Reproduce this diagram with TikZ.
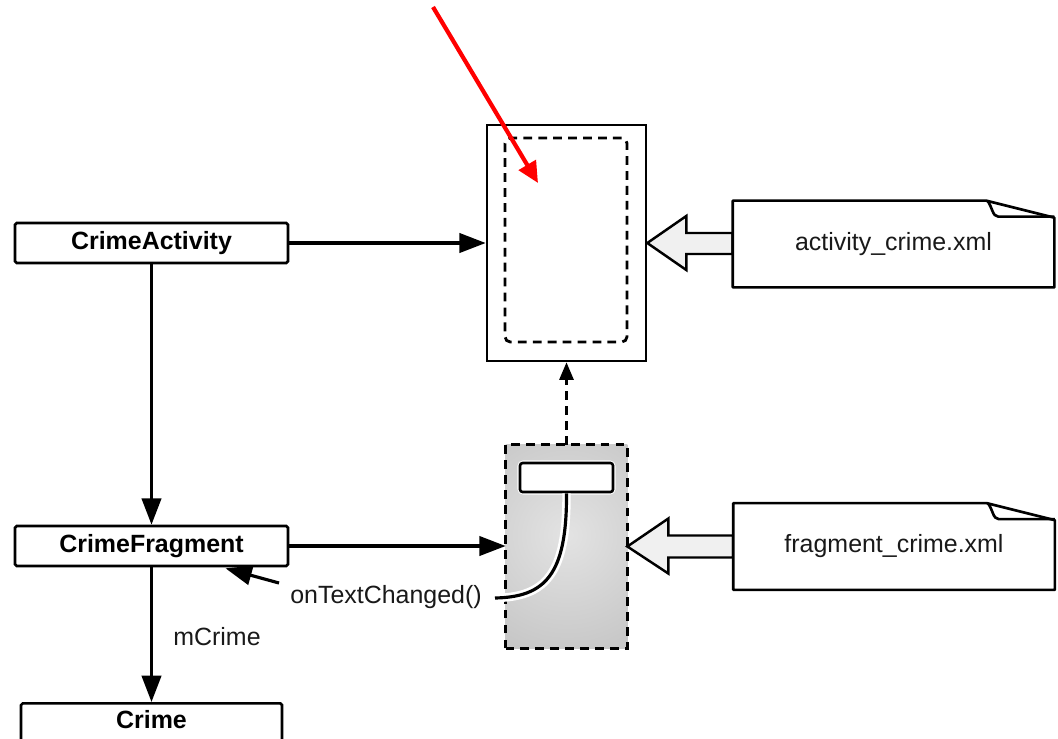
\documentclass[tikz,border=0pt]{standalone}
\usepackage{fontspec}
\setmainfont{Liberation Sans}
\usetikzlibrary{arrows.meta,calc}
\begin{document}
\begin{tikzpicture}[x=0.02cm,y=-0.02cm,
  txt/.style={font=\fontsize{14.2}{17}\selectfont, text=black!90},
  classbox/.style={draw, line width=1.5pt, rounded corners=1pt, fill=white,
    minimum width=5.46cm, minimum height=0.8cm, inner sep=0pt,
    font=\bfseries\fontsize{14.2}{17}\selectfont},
  flow/.style={line width=1.8pt, -{Triangle[length=15pt,width=11pt]}},
  docnode/.style={txt, minimum width=6.42cm, minimum height=1.72cm, inner sep=0pt},
  docline/.style={line width=1.5pt, line join=round},
  hollow/.style={draw, line width=1.4pt, fill=gray!12, line join=miter},
  dashline/.style={dash pattern=on 5pt off 3.5pt}
]
\useasboundingbox (0,0) rectangle (1058,738);
\clip (0,0) rectangle (1058,738);
\fill[white] (0,0) rectangle (1058,738);

% classes on the left
\node[classbox] (ca) at (151.5,243) {CrimeActivity};
\node[classbox] (cf) at (151.5,546) {CrimeFragment};
\node[classbox, minimum width=5.22cm, anchor=north, text height=0.5cm, text depth=0.5cm] (cr) at (151.5,702) {Crime};

% activity view with its fragment slot
\node[draw, line width=1.5pt, fill=white, minimum width=3.18cm, minimum height=4.72cm, inner sep=0pt] (ab) at (566.5,243) {};
\node[draw, dashline, line width=1.6pt, rounded corners=3pt, minimum width=2.44cm, minimum height=4.08cm, inner sep=0pt] (slot) at (566,240) {};

% fragment view
\node[minimum width=2.42cm, minimum height=4.06cm, inner sep=0pt] (fb) at (566.5,546.5) {};
\begin{scope}
  \clip (fb.south west) rectangle (fb.north east);
  \shade[inner color=gray!22, outer color=gray!58] (567,535) circle (200);
\end{scope}
\draw[dashline, line width=1.6pt] (fb.south west) rectangle (fb.north east);
\draw[white, line width=3pt, rounded corners=2pt] ($(566.5,477.5)+(-46.5,-14.5)$) rectangle ($(566.5,477.5)+(46.5,14.5)$);
\node[draw, line width=1.5pt, fill=white, rounded corners=1.5pt, minimum width=1.86cm, minimum height=0.58cm, inner sep=0pt] (field) at (566.5,477.5) {};
\coordinate (cbend) at (495,598);
\draw[white, line width=4.8pt] (field.south) .. controls (567,575) and (545,597) .. (cbend);
\draw[line width=1.8pt] (field.south) .. controls (567,575) and (545,597) .. (cbend);

% layout files
\node[docnode] (ad) at (893.5,244) {};
\node[docnode] (fd) at (894,546.5) {};

\draw[hollow] (ab.east) -- ++(39,-27) -- ++(0,17) -- ($(ad.west)+(0,-11)$)
  -- ($(ad.west)+(0,10)$) -- ($(ab.east)+(39,11)$) -- ($(ab.east)+(39,27)$) -- cycle;
\draw[hollow] (fb.east) -- ++(41,-28) -- ++(0,17) -- ($(fd.west)+(0,-11)$)
  -- ($(fd.west)+(0,11)$) -- ($(fb.east)+(41,11)$) -- ($(fb.east)+(41,27)$) -- cycle;

\foreach \d in {ad,fd}{
  \draw[docline, fill=white] (\d.north west) -- ($(\d.north east)+(-68,0)$)
    -- ($(\d.north east)+(0,17)$) -- (\d.south east) -- (\d.south west) -- cycle;
  \draw[docline] ($(\d.north east)+(-67,0)$) .. controls ($(\d.north east)+(-62,6)$) and ($(\d.north east)+(-62,16)$) .. ($(\d.north east)+(-56,16)$)
    -- ($(\d.north east)+(0,16)$);
}
\node[docnode] at (ad) {activity\_crime.xml};
\node[docnode] at (fd) {fragment\_crime.xml};

% connectors
\draw[flow] (ca.east) -- (ab.west);
\draw[flow] (cf.east) -- (cf.east -| fb.west);
\draw[flow] (ca.south) -- (cf.north);
\draw[flow] (cf.south) -- (cr.north);
\draw[dashline, line width=1.5pt, -{Triangle[length=10pt,width=8pt]}] (fb.north) -- (ab.south);

\node[txt] (otc) at (386,597) {onTextChanged()};
\coordinate (otctail) at (279,583);
\draw[flow] (otctail) -- ($(cf.south)+(74,1)$);
\node[txt] (mc) at (217,637) {mCrime};

% pointer
\coordinate (pin) at (433,7);
\coordinate (pinend) at (538,183);
\draw[red, line width=2.4pt, -{Triangle[length=12pt,width=11pt]}] (pin) -- (pinend);
\end{tikzpicture}
\end{document}
